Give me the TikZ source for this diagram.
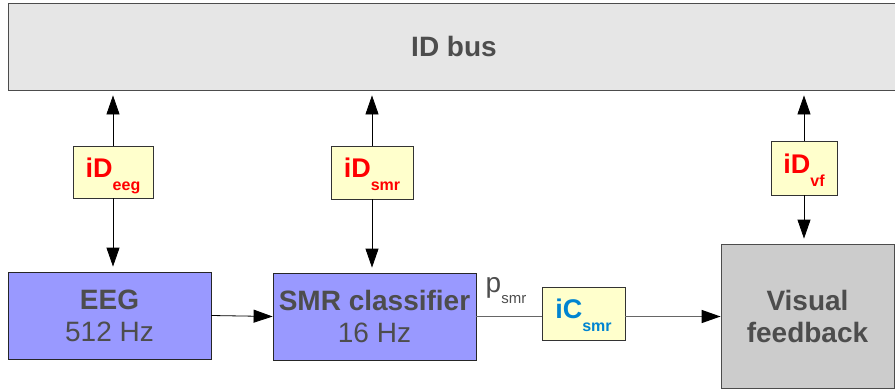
\documentclass[tikz,border=0pt]{standalone}
\usepackage{fontspec}
\setmainfont{Liberation Sans}
\usetikzlibrary{arrows.meta}

\definecolor{busfill}{HTML}{E6E6E6}
\definecolor{procfill}{HTML}{9999FF}
\definecolor{ifacefill}{HTML}{FFFFCC}
\definecolor{outfill}{HTML}{CCCCCC}
\definecolor{labelgray}{HTML}{4D4D4D}
\definecolor{linegray}{HTML}{666666}
\definecolor{idred}{HTML}{FF0000}
\definecolor{icblue}{HTML}{0084D1}

% interface label: large bold name with a lowered subscript
\newcommand\ifacelabel[2]{{\fontsize{27}{27}\selectfont\bfseries #1}\raisebox{-13pt}{\fontsize{16}{16}\selectfont\bfseries #2}}

\begin{document}
\begin{tikzpicture}[x=1pt,y=-1pt,
  block/.style={rectangle, draw=black!85, line width=0.8pt, inner sep=0pt,
    text=labelgray, align=center, font=\fontsize{28}{32}\selectfont},
  procbox/.style={block, fill=procfill, minimum width=203pt, minimum height=87pt},
  iface/.style={rectangle, draw=black!80, fill=ifacefill, line width=0.8pt,
    inner sep=0pt, text height=24pt, text depth=14pt},
  tip/.style={-{Triangle[length=19pt,width=13pt,black]}},
  updown/.style={tip, line width=0.8pt, draw=black, shorten >=5pt},
  flow/.style={tip, line width=0.8pt, draw=black},
  dataflow/.style={line width=1.3pt, draw=linegray}
]
\useasboundingbox (0,0) rectangle (895,389);

% shared bus across the top
\node[block, fill=busfill, draw=black!70, minimum width=892pt, minimum height=87pt,
  font=\fontsize{28}{32}\selectfont\bfseries] (bus) at (454,46.5) {ID bus};

% processing blocks
\node[procbox] (eeg) at (109.5,315.5) {{\bfseries EEG}\\512 Hz};
\node[procbox] (smr) at (374.5,316.5) {{\bfseries SMR classifier}\\16 Hz};
\node[block, fill=outfill, draw=black!70, minimum width=173pt, minimum height=144pt,
  font=\fontsize{28}{32}\selectfont\bfseries] (vf) at (807.5,316) {Visual\\feedback};

% interface boxes
\node[iface, minimum width=80pt, minimum height=52pt, text=idred] (iDeeg) at (113,172) {\ifacelabel{iD}{eeg}};
\node[iface, minimum width=82pt, minimum height=53pt, text=idred] (iDsmr) at (372,172.5) {\ifacelabel{iD}{smr}};
\node[iface, minimum width=66pt, minimum height=54pt, text=idred] (iDvf) at (804,168) {\ifacelabel{iD}{vf}};
\node[iface, minimum width=83pt, minimum height=53pt, text=icblue] (iCsmr) at (583.5,313.5) {\ifacelabel{iC}{smr}};

% output label of the classifier
\node[anchor=base west, inner sep=0pt, text=labelgray] (psmr) at (485.5,292)
  {\fontsize{28}{28}\selectfont p\raisebox{-11pt}{\fontsize{15}{15}\selectfont smr}};

% bus connections
\draw[updown] (iDeeg.north) -- (iDeeg.north |- bus.south);
\draw[updown] (iDeeg.south) -- (iDeeg.south |- eeg.north);
\draw[updown] (iDsmr.north) -- (iDsmr.north |- bus.south);
\draw[updown] (iDsmr.south) -- (iDsmr.south |- smr.north);
\draw[updown] (iDvf.north) -- (iDvf.north |- bus.south);
\draw[updown] (iDvf.south) -- (iDvf.south |- vf.north);

% signal path
\draw[flow] (eeg.east) -- (smr.west);
\draw[dataflow] (smr.east) -- (smr.east -| iCsmr.west);
\draw[dataflow, tip] (smr.east -| iCsmr.east) -- (smr.east -| vf.west);
\end{tikzpicture}
\end{document}
